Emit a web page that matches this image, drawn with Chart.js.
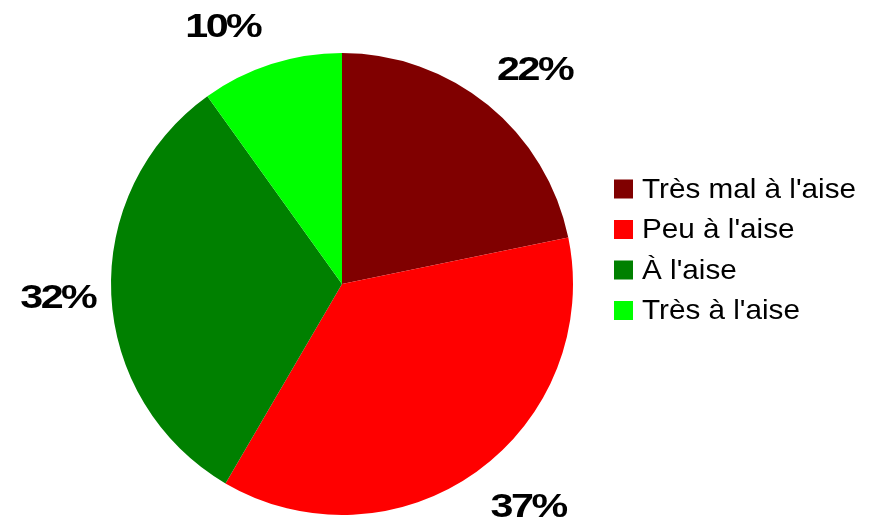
<!DOCTYPE html>
<html>
<head>
<meta charset="utf-8">
<script src="https://cdn.jsdelivr.net/npm/chart.js@4/dist/chart.umd.min.js"></script>
<style>
  html, body { margin: 0; padding: 0; background: #fff; }
  #wrap { width: 874px; height: 523px; position: relative; }
</style>
</head>
<body>
<div id="wrap"><canvas id="pieChart"></canvas></div>
<script>
const labels = ["Très mal à l'aise", "Peu à l'aise", "À l'aise", "Très à l'aise"];
const values = [22, 37, 32, 10];
const colors = ["#800000", "#ff0000", "#008000", "#00ff00"];

const FONT = '"Liberation Sans", Arial, sans-serif';

// sideways gap / vertical nudge of each percentage label
const labelGap = [9, 14, 16, 11];
const labelLift = [-4, 0, 0, 2];

// percentage labels outside each slice
const pctLabels = {
  id: "pctLabels",
  afterDatasetsDraw(chart) {
    const ctx = chart.ctx;
    const meta = chart.getDatasetMeta(0);
    ctx.save();
    ctx.font = "bold 33px " + FONT;
    ctx.letterSpacing = "-2px";
    ctx.fillStyle = "#000";
    ctx.textAlign = "center";
    ctx.textBaseline = "middle";
    const sx = 1.25;
    meta.data.forEach((arc, i) => {
      const mid = (arc.startAngle + arc.endAngle) / 2;
      const ex = arc.x + Math.cos(mid) * arc.outerRadius;
      const ey = arc.y + Math.sin(mid) * arc.outerRadius;
      const text = values[i] + "%";
      const w = ctx.measureText(text).width * sx;
      const horiz = Math.cos(mid);
      const up = -Math.sin(mid);
      const cx = ex + Math.sign(horiz) * (w / 2 + labelGap[i]);
      const cy = ey - up * 42 + 2 + labelLift[i];
      ctx.save();
      ctx.translate(cx, cy);
      ctx.scale(sx, 1);
      ctx.fillText(text, 0, 0);
      ctx.restore();
    });
    ctx.restore();
  },
};

// legend on the right
const sideLegend = {
  id: "sideLegend",
  afterDraw(chart) {
    const ctx = chart.ctx;
    ctx.save();
    ctx.font = "28px " + FONT;
    ctx.textBaseline = "middle";
    ctx.textAlign = "left";
    labels.forEach((lab, i) => {
      const y = 189 + i * 40.5;
      ctx.fillStyle = colors[i];
      ctx.fillRect(614, y - 9.5, 19, 19);
      ctx.fillStyle = "#000";
      ctx.save();
      ctx.translate(642, y + 1);
      ctx.scale(1.06, 1);
      ctx.fillText(lab, 0, 0);
      ctx.restore();
    });
    ctx.restore();
  },
};

new Chart(document.getElementById("pieChart"), {
  type: "pie",
  data: {
    labels: labels,
    datasets: [{
      data: values,
      backgroundColor: colors,
      borderWidth: 0,
      hoverOffset: 0,
    }],
  },
  options: {
    responsive: true,
    maintainAspectRatio: false,
    animation: false,
    layout: { padding: { left: 0, right: 190, top: 53, bottom: 8 } },
    plugins: {
      legend: { display: false },
      tooltip: { enabled: false },
    },
  },
  plugins: [pctLabels, sideLegend],
});
</script>
</body>
</html>
